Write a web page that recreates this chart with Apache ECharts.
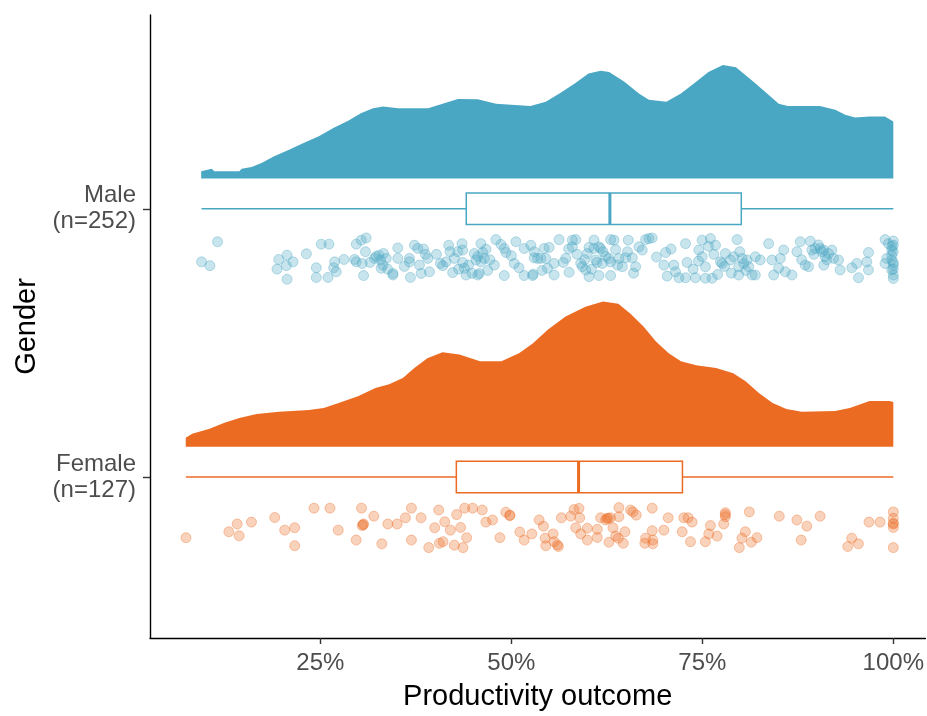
<!DOCTYPE html>
<html>
<head>
<meta charset="utf-8">
<script src="https://cdn.jsdelivr.net/npm/echarts@6/dist/echarts.min.js"></script>
<style>
  html, body { margin: 0; padding: 0; background: #ffffff; }
  #chart { width: 927px; height: 716px; }
</style>
</head>
<body>
<div id="chart"></div>
<script>
// Groups (y = 1 for Female, y = 2 for Male) and their sample sizes
const groupNames = ['Female', 'Male'];
const groupCounts = [127, 252];
const xTicks = [25, 50, 75, 100];

// Kernel density (half-violin "cloud") per group: score (%) and density height
const maleDensityX = [9.4, 10.8, 11.1, 14.4, 14.7, 16.0, 17.3, 18.95, 20.9, 22.8, 24.8, 26.7, 28.7, 30.3, 31.9, 33.2, 35.2, 39.1, 41.0, 43.0, 45.6, 48.0, 52.5, 54.5, 56.3, 58.3, 60.1, 61.7, 62.8, 64.8, 66.7, 68.0, 70.3, 72.2, 73.9, 75.8, 77.7, 79.4, 81.7, 83.7, 85.0, 86.2, 90.4, 92.4, 93.7, 95.0, 96.9, 98.9, 100];
const maleDensity = [0.027, 0.036, 0.027, 0.027, 0.036, 0.043, 0.058, 0.083, 0.107, 0.132, 0.157, 0.188, 0.216, 0.243, 0.262, 0.268, 0.262, 0.262, 0.278, 0.296, 0.295, 0.278, 0.270, 0.286, 0.317, 0.354, 0.391, 0.401, 0.397, 0.360, 0.317, 0.293, 0.286, 0.317, 0.354, 0.397, 0.423, 0.414, 0.360, 0.311, 0.278, 0.270, 0.270, 0.256, 0.237, 0.227, 0.231, 0.231, 0.212];

const femaleDensityX = [7.38, 8.23, 10.5, 12.45, 14.4, 16.67, 19.6, 23.5, 25.44, 27.4, 30.0, 32.2, 34.0, 35.8, 37.3, 39.0, 41.0, 43.2, 45.9, 48.7, 51.0, 52.8, 54.8, 57.1, 59.7, 62.0, 64.0, 65.6, 67.3, 68.9, 70.6, 72.2, 74.2, 76.8, 79.04, 80.67, 82.4, 84.2, 86.0, 88.0, 92.4, 94.3, 96.9, 99.5, 100];
const femaleDensity = [0.033, 0.048, 0.067, 0.089, 0.107, 0.122, 0.130, 0.137, 0.144, 0.163, 0.189, 0.219, 0.233, 0.256, 0.293, 0.330, 0.352, 0.344, 0.319, 0.319, 0.348, 0.385, 0.437, 0.485, 0.522, 0.541, 0.533, 0.496, 0.448, 0.393, 0.348, 0.319, 0.304, 0.293, 0.274, 0.244, 0.200, 0.163, 0.141, 0.130, 0.133, 0.144, 0.170, 0.170, 0.167];

// Box-plot summaries: [lower whisker, Q1, median, Q3, upper whisker]
const maleBox = [9.45, 44.1, 62.9, 80.1, 100];
const femaleBox = [7.4, 42.8, 58.8, 72.4, 100];

// Raw observations: [score %, jitter below the group line]
const malePoints = [
  [9.45,0.198],[10.54,0.212],[11.54,0.123],[19.55,0.189],[20.64,0.173],[21.42,0.198],[20.55,0.212],[19.33,0.225],[20.64,0.263],[23.17,0.168],
  [24.47,0.220],[24.47,0.256],[25.12,0.132],[26.13,0.132],[26.00,0.256],[26.87,0.198],[26.74,0.220],[27.08,0.235],[28.09,0.189],[29.70,0.132],
  [30.35,0.117],[31.00,0.109],[29.48,0.189],[29.70,0.198],[30.48,0.204],[30.66,0.249],[32.09,0.185],[32.66,0.173],[32.88,0.191],[33.18,0.210],
  [33.27,0.167],[33.62,0.185],[32.96,0.222],[34.49,0.241],[34.49,0.247],[35.14,0.146],[35.14,0.185],[36.66,0.185],[36.66,0.198],[36.79,0.256],
  [37.32,0.136],[37.75,0.148],[37.97,0.210],[38.19,0.241],[38.75,0.170],[39.06,0.185],[39.28,0.235],[40.71,0.204],[41.02,0.212],[41.45,0.198],
  [41.80,0.136],[41.97,0.160],[42.32,0.238],[42.54,0.185],[42.98,0.160],[43.54,0.130],[43.63,0.154],[43.63,0.200],[44.07,0.247],[43.85,0.222],
  [44.85,0.241],[45.15,0.167],[45.37,0.191],[45.59,0.247],[45.81,0.241],[46.02,0.130],[46.24,0.163],[46.02,0.198],[46.46,0.185],[46.68,0.151],
  [47.77,0.210],[47.98,0.115],[48.64,0.133],[49.07,0.148],[49.29,0.163],[49.07,0.249],[50.38,0.204],[50.60,0.123],[51.68,0.148],[51.68,0.249],
  [52.55,0.136],[52.77,0.249],[52.99,0.183],[53.43,0.185],[53.86,0.185],[54.30,0.148],[54.51,0.185],[52.86,0.244],
  [54.73,0.222],[55.60,0.204],[55.60,0.247],[54.95,0.144],[56.25,0.115],[57.12,0.185],[57.56,0.237],[57.99,0.117],[57.99,0.142],[58.43,0.115],
  [59.08,0.204],[59.30,0.216],[59.74,0.228],[59.95,0.167],[60.17,0.144],[60.17,0.253],[60.82,0.117],[60.82,0.148],[61.04,0.191],[61.48,0.142],
  [61.69,0.148],[61.48,0.249],[61.91,0.204],[62.35,0.177],[62.78,0.185],[63.00,0.115],[63.00,0.198],[63.00,0.249],[63.44,0.117],[63.65,0.152],
  [64.09,0.185],[64.53,0.216],[64.96,0.183],[65.31,0.117],[65.83,0.183],[66.27,0.216],[66.70,0.142],[67.14,0.154],[67.57,0.115],[68.01,0.111],
  [68.44,0.109],[70.19,0.163],[69.97,0.210],[70.40,0.251],[71.27,0.210],[71.49,0.235],[71.93,0.257],[72.80,0.257],[72.80,0.130],[74.10,0.257],
  [74.54,0.154],[74.97,0.117],[74.97,0.179],[75.41,0.216],[75.41,0.259],[76.06,0.111],[76.28,0.259],[76.72,0.136],[77.37,0.198],[77.59,0.204],
  [78.02,0.167],[78.68,0.191],[79.11,0.179],[79.55,0.115],[79.76,0.216],[79.76,0.247],[80.20,0.185],[80.42,0.204],[80.85,0.191],[81.07,0.216],
  [81.51,0.247],[81.94,0.247],[81.94,0.179],[82.59,0.191],[83.68,0.130],[84.12,0.191],[84.34,0.247],[84.99,0.222],[85.21,0.185],[85.64,0.154],
  [85.86,0.235],[86.73,0.247],[87.38,0.160],[87.82,0.123],[88.47,0.210],[88.91,0.216],[89.13,0.121],[89.34,0.154],[89.78,0.148],[90.43,0.148],
  [90.65,0.160],[90.87,0.154],[91.08,0.179],[91.52,0.167],[91.96,0.154],[92.17,0.185],[92.83,0.191],[93.04,0.228],[94.57,0.220],[95.22,0.204],
  [95.44,0.257],[96.75,0.163],[96.53,0.198],[96.75,0.228],[98.92,0.115],[99.36,0.130],[100,0.136],[99.79,0.154],[99.79,0.173],[99.79,0.191],
  [100,0.210],[99.79,0.228],[100,0.247],[99.14,0.185],[98.92,0.204],
  [31.5,0.200],[32.3,0.178],[30.9,0.160],[33.8,0.225],
  [40.2,0.170],[44.4,0.210],[45.6,0.178],[43.1,0.225],[47.2,0.190],[46.9,0.230],
  [56.8,0.200],[58.6,0.170],[60.5,0.225],[62.0,0.160],[63.9,0.210],[65.2,0.160],[66.0,0.240],[57.5,0.150],[59.6,0.190],[61.2,0.200],
  [73.0,0.200],[73.8,0.225],[74.5,0.195],[76.5,0.170],[77.9,0.215],[78.8,0.240],[79.9,0.160],[80.7,0.230],[75.8,0.140],[77.0,0.245],
  [89.6,0.170],[90.2,0.135],[91.3,0.190],[88.0,0.190],[90.9,0.210],
  [100,0.120],[100,0.160],[100,0.200],[100,0.225],[99.8,0.140],[100,0.260],
  [36.0,0.215],[38.5,0.150],[50.0,0.175],[51.0,0.220],[53.0,0.160],[54.0,0.230],[69.0,0.180],[70.9,0.150]
];

const femalePoints = [
  [7.41,0.226],[13.02,0.204],[14.11,0.175],[14.37,0.219],[15.98,0.168],[19.03,0.151],[20.33,0.198],[21.64,0.189],[21.64,0.256],[24.17,0.116],
  [26.26,0.116],[27.34,0.198],[29.69,0.235],[30.39,0.116],[30.48,0.181],[30.65,0.175],[32.00,0.146],[33.05,0.249],[33.83,0.175],[35.05,0.175],
  [36.14,0.152],[36.92,0.116],[36.92,0.235],[38.18,0.152],[39.19,0.263],[39.97,0.189],[40.49,0.123],[40.58,0.247],[41.06,0.241],[41.28,0.167],
  [42.02,0.198],[42.54,0.254],[42.84,0.140],[43.36,0.188],[43.67,0.263],[43.89,0.116],[44.15,0.226],[44.93,0.116],[46.19,0.123],[46.67,0.168],
  [47.54,0.160],[48.50,0.226],[49.28,0.131],[49.81,0.142],[51.11,0.205],[51.68,0.235],[52.68,0.212],[53.64,0.160],
  [54.20,0.183],[54.42,0.228],[54.51,0.256],[55.46,0.212],[55.60,0.241],[56.03,0.253],[56.16,0.259],[56.55,0.152],[57.77,0.146],[58.21,0.121],
  [58.86,0.117],[58.95,0.152],[58.43,0.189],[59.08,0.212],[59.95,0.191],[59.95,0.235],[61.25,0.195],[61.25,0.225],[61.69,0.152],[62.34,0.160],
  [62.69,0.154],[62.98,0.152],[62.78,0.243],[63.30,0.189],[63.65,0.220],[64.08,0.114],[64.08,0.148],[64.00,0.228],[64.65,0.247],[64.87,0.204],
  [65.61,0.123],[65.91,0.130],[66.35,0.142],[67.57,0.228],[67.48,0.247],[68.44,0.116],[68.44,0.200],[68.52,0.235],[68.52,0.249],[69.96,0.198],
  [70.53,0.152],[72.36,0.204],[72.57,0.152],[73.14,0.152],[73.66,0.168],[73.45,0.241],[75.40,0.241],[75.84,0.212],[76.06,0.181],[76.93,0.220],
  [77.80,0.175],[78.02,0.133],[78.02,0.148],[79.84,0.263],[80.19,0.228],[80.63,0.204],[81.15,0.130],[81.41,0.243],[82.15,0.226],[85.07,0.146],
  [87.38,0.160],[87.94,0.235],[88.68,0.183],[90.42,0.146],[94.04,0.259],[94.56,0.228],[95.43,0.249],[96.82,0.168],[98.26,0.168],[100,0.130],
  [100,0.154],[100,0.175],[100,0.188],[100,0.263],
  [30.6,0.178],[49.8,0.144],[62.5,0.154],[100,0.172],[78.0,0.140]
];

// ---- styling ----
const MALE_COLOR = '#4aa7c3';
const FEMALE_COLOR = '#ec6b23';
const CLOUD_OFFSET = 0.113;   // gap between group line and cloud baseline
const BOX_HALF = 0.059;       // half height of the box

function rgba(hex, a) {
  const n = parseInt(hex.slice(1), 16);
  return 'rgba(' + ((n >> 16) & 255) + ',' + ((n >> 8) & 255) + ',' + (n & 255) + ',' + a + ')';
}

const groupData = [
  { y: 2, color: MALE_COLOR, dx: maleDensityX, d: maleDensity, box: maleBox, pts: malePoints },
  { y: 1, color: FEMALE_COLOR, dx: femaleDensityX, d: femaleDensity, box: femaleBox, pts: femalePoints }
];

function renderCloud(params, api) {
  const g = groupData[params.dataIndex];
  const base = g.y + CLOUD_OFFSET;
  const pts = [api.coord([g.dx[0], base])];
  for (let i = 0; i < g.dx.length; i++) pts.push(api.coord([g.dx[i], base + g.d[i]]));
  pts.push(api.coord([g.dx[g.dx.length - 1], base]));
  return { type: 'polygon', shape: { points: pts }, style: { fill: g.color, stroke: null } };
}

function renderBox(params, api) {
  const g = groupData[params.dataIndex];
  const b = g.box;
  const y = g.y;
  const p = b.map(v => api.coord([v, y]));
  const top = api.coord([b[1], y + BOX_HALF])[1];
  const bot = api.coord([b[1], y - BOX_HALF])[1];
  const lineStyle = { stroke: g.color, lineWidth: 1.5, fill: null };
  return {
    type: 'group',
    children: [
      { type: 'line', shape: { x1: p[0][0], y1: p[0][1], x2: p[1][0], y2: p[1][1] }, style: lineStyle },
      { type: 'line', shape: { x1: p[3][0], y1: p[3][1], x2: p[4][0], y2: p[4][1] }, style: lineStyle },
      { type: 'rect', shape: { x: p[1][0], y: top, width: p[3][0] - p[1][0], height: bot - top }, style: { stroke: g.color, lineWidth: 1.5, fill: '#ffffff' } },
      { type: 'line', shape: { x1: p[2][0], y1: top, x2: p[2][0], y2: bot }, style: { stroke: g.color, lineWidth: 3 } }
    ]
  };
}

const chart = echarts.init(document.getElementById('chart'), null, { renderer: 'canvas' });

const textColor = '#4d4d4d';
const fontFamily = '"Liberation Sans", Arial, sans-serif';

chart.setOption({
  animation: false,
  backgroundColor: '#ffffff',
  grid: { left: 150, right: 0, top: 15, bottom: 74, containLabel: false },
  xAxis: {
    type: 'value',
    min: 2.7,
    max: 104.2,
    name: 'Productivity outcome',
    nameLocation: 'middle',
    nameGap: 44,
    nameTextStyle: { color: '#000000', fontSize: 29, fontFamily: fontFamily },
    axisLine: { show: true, lineStyle: { color: '#000000', width: 1.4 } },
    axisTick: { show: true, length: 6, customValues: xTicks, lineStyle: { color: '#333333', width: 1.4 } },
    axisLabel: {
      customValues: xTicks,
      formatter: v => v + '%',
      color: textColor, fontSize: 24, fontFamily: fontFamily, margin: 13
    },
    splitLine: { show: false }
  },
  yAxis: {
    type: 'value',
    min: 0.4,
    max: 2.7222,
    name: 'Gender',
    nameLocation: 'middle',
    nameGap: 104,
    nameRotate: 90,
    nameTextStyle: { color: '#000000', fontSize: 29, fontFamily: fontFamily },
    axisLine: { show: true, lineStyle: { color: '#000000', width: 1.4 } },
    axisTick: { show: true, length: 7, customValues: [1, 2], lineStyle: { color: '#333333', width: 1.4 } },
    axisLabel: {
      customValues: [1, 2],
      formatter: v => {
        const i = Math.round(v) - 1;
        return groupNames[i] + '\n(n=' + groupCounts[i] + ')';
      },
      color: textColor, fontSize: 24, lineHeight: 26, fontFamily: fontFamily, margin: 14, align: 'right',
      padding: [4, 0, 0, 0]
    },
    splitLine: { show: false }
  },
  series: [
    {
      type: 'custom',
      name: 'cloud',
      renderItem: renderCloud,
      data: groupData.map(g => [g.dx[0], g.y]),
      z: 1
    },
    {
      type: 'custom',
      name: 'box',
      renderItem: renderBox,
      data: groupData.map(g => [g.box[2], g.y]),
      z: 2
    },
    {
      type: 'scatter',
      name: 'Male',
      symbolSize: 10,
      data: malePoints.map(p => [p[0], 2 - p[1]]),
      itemStyle: { color: rgba(MALE_COLOR, 0.38), borderColor: rgba(MALE_COLOR, 0.45), borderWidth: 1 },
      z: 3
    },
    {
      type: 'scatter',
      name: 'Female',
      symbolSize: 10,
      data: femalePoints.map(p => [p[0], 1 - p[1]]),
      itemStyle: { color: rgba(FEMALE_COLOR, 0.38), borderColor: rgba(FEMALE_COLOR, 0.45), borderWidth: 1 },
      z: 3
    }
  ]
});
</script>
</body>
</html>
